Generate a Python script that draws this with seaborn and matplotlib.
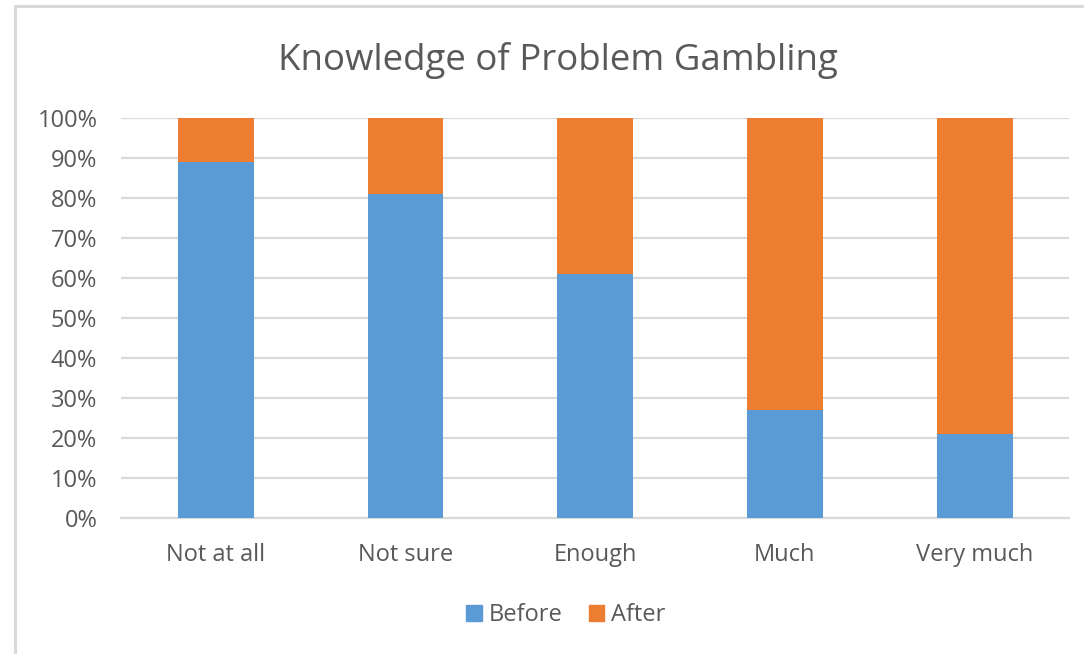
import matplotlib
matplotlib.use("Agg")
import matplotlib.pyplot as plt
import matplotlib.patches as mpatches
from matplotlib.ticker import FuncFormatter, MultipleLocator
import pandas as pd
import seaborn as sns

categories = ["Not at all", "Not sure", "Enough", "Much", "Very much"]
before = [89, 81, 61, 27, 21]
after = [11, 19, 39, 73, 79]
series_names = ["Before", "After"]
title = "Knowledge of Problem Gambling"

blue = "#5B9BD5"
orange = "#ED7D31"
text_color = "#595959"
grid_color = "#D9D9D9"

sns.set_theme(style="white")
plt.rcParams["font.family"] = ["Open Sans", "DejaVu Sans"]

df = pd.DataFrame({"category": categories, "Before": before, "After": after})
df["Total"] = df["Before"] + df["After"]

fig = plt.figure(figsize=(10.84, 6.54), dpi=100)
ax = fig.add_axes([0.1116, 0.208, 0.875, 0.6116])

# stacked columns: full stack first, the lower segment drawn over it
sns.barplot(data=df, x="category", y="Total", color=orange, width=0.4,
            saturation=1, ax=ax, zorder=3, edgecolor="none")
sns.barplot(data=df, x="category", y="Before", color=blue, width=0.4,
            saturation=1, ax=ax, zorder=4, edgecolor="none")

ax.set_xlim(-0.5, len(categories) - 0.5)
ax.set_ylim(0, 100)
ax.yaxis.set_major_locator(MultipleLocator(10))
ax.yaxis.set_major_formatter(FuncFormatter(lambda v, _: f"{v:.0f}%"))
ax.grid(axis="y", color=grid_color, linewidth=1.6, zorder=0)
ax.set_axisbelow(True)
for side in ["top", "right", "left"]:
    ax.spines[side].set_visible(False)
ax.spines["bottom"].set_color(grid_color)
ax.spines["bottom"].set_linewidth(1.6)
ax.set_xlabel("")
ax.set_ylabel("")
ax.tick_params(axis="both", length=0, colors=text_color, labelsize=17)
ax.tick_params(axis="x", pad=18)
ax.tick_params(axis="y", pad=17)

fig.text(0.515, 0.908, title, ha="center", va="center", fontsize=26.4,
         color=text_color)

handles = [mpatches.Patch(color=blue, label=series_names[0]),
           mpatches.Patch(color=orange, label=series_names[1])]
fig.legend(handles=handles, loc="center", bbox_to_anchor=(0.522, 0.059),
           ncol=2, frameon=False, fontsize=17, labelcolor=text_color,
           handlelength=0.65, handleheight=0.65, handletextpad=0.3,
           columnspacing=1.1)

# chart frame
frame = mpatches.Rectangle((15 / 1084, -0.05), 1.2, (654 - 6) / 654 + 0.05,
                           transform=fig.transFigure, fill=False,
                           edgecolor="#D9D9D9", linewidth=2.2)
fig.patches.append(frame)

fig.savefig("out.png", dpi=100, facecolor="white")
